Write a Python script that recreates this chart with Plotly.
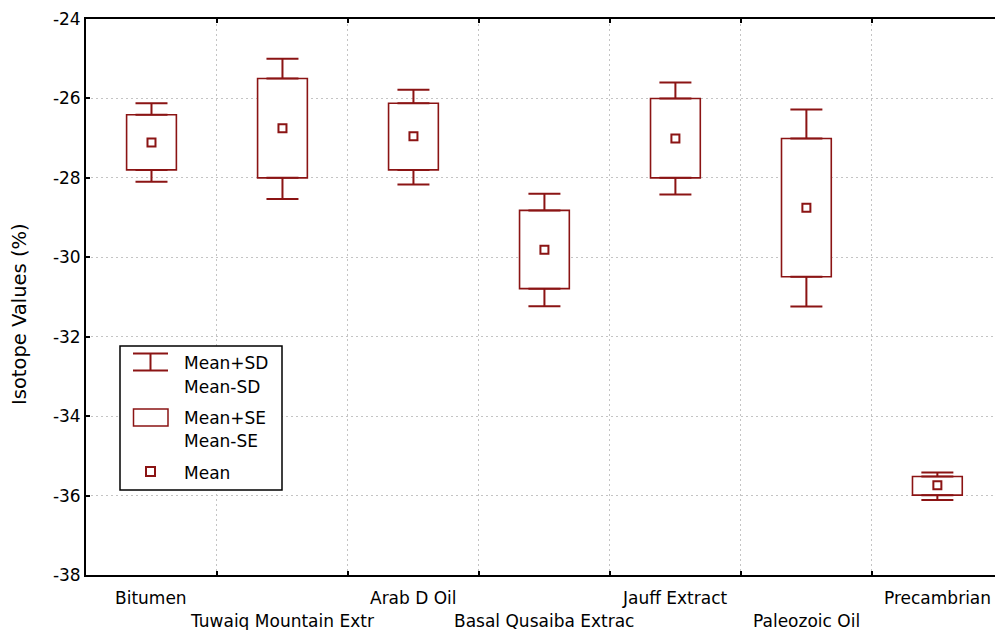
import plotly.graph_objects as go

categories = ["Bitumen", "Tuwaiq Mountain Extr", "Arab D Oil", "Basal Qusaiba Extrac",
              "Jauff Extract", "Paleozoic Oil", "Precambrian"]
mean = [-27.11, -26.75, -26.95, -29.81, -27.01, -28.75, -35.74]
se_high = [-26.41, -25.50, -26.12, -28.82, -26.00, -27.01, -35.52]
se_low = [-27.80, -28.00, -27.80, -30.79, -28.00, -30.49, -35.99]
sd_high = [-26.12, -25.00, -25.78, -28.40, -25.60, -26.28, -35.42]
sd_low = [-28.10, -28.53, -28.17, -31.23, -28.42, -31.24, -36.11]
y_ticks = [-38, -36, -34, -32, -30, -28, -26, -24]
y_tick_labels = ["-38", "-36", "-34", "-32", "-30", "-28", "-26", "-24"]
legend_labels = ["Mean+SD", "Mean-SD", "Mean+SE", "Mean-SE", "Mean"]
y_title = "Isotope Values (%)"

RED = "#8b1414"
FONT = "DejaVu Sans, Liberation Sans, Arial, sans-serif"
GRID = "#c4c4c4"

fig = go.Figure()

# SE boxes
fig.add_trace(go.Bar(
    x=categories, base=se_low, y=[h - l for h, l in zip(se_high, se_low)],
    width=0.38, marker=dict(color="white", line=dict(color=RED, width=1.6)),
    showlegend=False, hoverinfo="skip"))

# SD whiskers above box
fig.add_trace(go.Scatter(
    x=categories, y=se_high, mode="markers", marker=dict(size=0.1, color="rgba(0,0,0,0)"),
    error_y=dict(type="data", symmetric=False,
                 array=[s - h for s, h in zip(sd_high, se_high)],
                 arrayminus=[0] * len(categories), color=RED, thickness=2, width=16),
    showlegend=False, hoverinfo="skip"))

# SD whiskers below box
fig.add_trace(go.Scatter(
    x=categories, y=se_low, mode="markers", marker=dict(size=0.1, color="rgba(0,0,0,0)"),
    error_y=dict(type="data", symmetric=False,
                 array=[0] * len(categories),
                 arrayminus=[l - s for l, s in zip(se_low, sd_low)], color=RED, thickness=2, width=16),
    showlegend=False, hoverinfo="skip"))

# Mean markers
fig.add_trace(go.Scatter(
    x=categories, y=mean, mode="markers",
    marker=dict(symbol="square", size=8, color="white", line=dict(color=RED, width=2)),
    showlegend=False))

# Layout helpers: page-pixel -> paper fraction (plot area spans x 86..995, y 19..575)
L, T, PW, PH = 86, 19, 909, 556
def px(xp):
    return (xp - L) / PW
def py(yp):
    return (T + PH - yp) / PH

shapes = []
shapes.append(dict(type="rect", xref="paper", yref="paper", x0=px(120), x1=px(282),
                   y0=py(490), y1=py(346), line=dict(color="black", width=1.5),
                   fillcolor="white", layer="above"))
# SD symbol
shapes.append(dict(type="line", xref="paper", yref="paper", x0=px(133), x1=px(168),
                   y0=py(353.5), y1=py(353.5), line=dict(color=RED, width=2)))
shapes.append(dict(type="line", xref="paper", yref="paper", x0=px(133), x1=px(168),
                   y0=py(370.5), y1=py(370.5), line=dict(color=RED, width=2)))
shapes.append(dict(type="line", xref="paper", yref="paper", x0=px(150.5), x1=px(150.5),
                   y0=py(353.5), y1=py(370.5), line=dict(color=RED, width=2)))
# SE symbol
shapes.append(dict(type="rect", xref="paper", yref="paper", x0=px(133.5), x1=px(168),
                   y0=py(426), y1=py(409), line=dict(color=RED, width=1.5)))
# Mean symbol
shapes.append(dict(type="rect", xref="paper", yref="paper", x0=px(146), x1=px(155),
                   y0=py(476), y1=py(467), line=dict(color=RED, width=2)))

annotations = []
for txt, yy in zip(legend_labels, [363, 387, 418, 441, 473]):
    annotations.append(dict(text=txt, xref="paper", yref="paper", x=px(182), y=py(yy),
                            xanchor="left", yanchor="middle", showarrow=False,
                            font=dict(family=FONT, size=17, color="black")))

# Staggered category labels placed on the category axis
for i, c in enumerate(categories):
    annotations.append(dict(text=c, xref="x", yref="paper", x=c,
                            y=py(598 if i % 2 == 0 else 621),
                            xanchor="center", yanchor="middle", showarrow=False,
                            font=dict(family=FONT, size=17, color="black")))

# Y axis title
annotations.append(dict(text=y_title, xref="paper", yref="paper", x=px(19), y=py(314),
                        xanchor="center", yanchor="middle", textangle=-90, showarrow=False,
                        font=dict(family=FONT, size=19.5, color="black")))

fig.update_layout(
    width=995, height=630,
    margin=dict(l=86, r=0, t=19, b=55),
    paper_bgcolor="white", plot_bgcolor="white",
    font=dict(family=FONT, size=17, color="black"),
    shapes=shapes, annotations=annotations,
    showlegend=False,
    xaxis=dict(type="category", categoryarray=categories, categoryorder="array",
               range=[-0.5, 6.44], tickson="boundaries", showticklabels=False,
               automargin=False,
               ticks="inside", ticklen=4, tickcolor="black", tickwidth=1.5,
               showline=True, linecolor="black", linewidth=1.8, mirror="ticks",
               showgrid=True, gridcolor=GRID, griddash="2px,3px", gridwidth=1),
    yaxis=dict(range=[-38, -24], tickmode="array", tickvals=y_ticks, ticktext=y_tick_labels,
               automargin=False,
               ticks="inside", ticklen=4, tickcolor="black", tickwidth=1.5,
               showline=True, linecolor="black", linewidth=1.8, mirror=False,
               showgrid=True, gridcolor=GRID, griddash="2px,3px", gridwidth=1,
               zeroline=False, tickfont=dict(family=FONT, size=17)),
)

fig.write_html("out.html", config={"displayModeBar": False},
               post_script="document.body.style.margin='0';document.body.style.overflow='hidden';")
